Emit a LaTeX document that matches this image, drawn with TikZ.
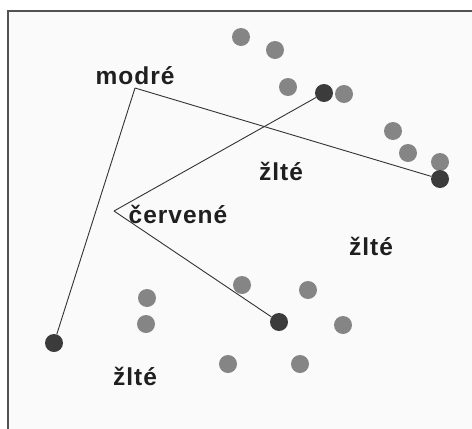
\documentclass[tikz,border=0pt]{standalone}
\usepackage{fontspec}
\setmainfont{Liberation Sans}
\begin{document}
\begin{tikzpicture}[x=1pt,y=-1pt,
  graydot/.style={circle,fill=black!48,inner sep=0pt,minimum size=18pt},
  darkdot/.style={circle,fill=black!77,inner sep=0pt,minimum size=18pt},
  lbl/.style={font=\fontsize{24.5}{28}\selectfont\addfontfeatures{LetterSpace=4}\bfseries,text=black!88,anchor=base,inner sep=0pt},
  conn/.style={draw=black!80,line width=0.9pt},
  frame/.style={draw=black!68,line width=2.8pt}]
\useasboundingbox (0,0) rectangle (472,429);
\fill[white] (0,0) rectangle (472,429);
\fill[black!2] (9,12) rectangle (472,429);
% frame (left and top edges)
\coordinate (fbl) at (8,429);
\coordinate (ftl) at (8,11);
\coordinate (ftr) at (472,11);
\draw[frame] (fbl) -- (ftl) -- (ftr);
% gray dots
\node[graydot] (g1) at (241,37) {};
\node[graydot] (g2) at (275,50) {};
\node[graydot] (g3) at (288,87) {};
\node[graydot] (g4) at (344,94) {};
\node[graydot] (g5) at (393,131) {};
\node[graydot] (g6) at (408,153) {};
\node[graydot] (g7) at (440,162) {};
\node[graydot] (g8) at (147,298) {};
\node[graydot] (g9) at (146,324) {};
\node[graydot] (g10) at (242,285) {};
\node[graydot] (g11) at (308,290) {};
\node[graydot] (g12) at (343,325) {};
\node[graydot] (g13) at (228,364) {};
\node[graydot] (g14) at (300,364) {};
% dark dots
\node[darkdot] (d1) at (324,93) {};
\node[darkdot] (d2) at (440,179) {};
\node[darkdot] (d3) at (279,322) {};
\node[darkdot] (d4) at (54,343) {};
% labels
\node[lbl] (modre) at (135,84) {modré};
\node[lbl] (cervene) at (178,223) {červené};
\node[lbl] (z1) at (281,180) {žlté};
\node[lbl] (z2) at (371,255) {žlté};
\node[lbl] (z3) at (135,385) {žlté};
% vertices
\coordinate (mv) at (135,88);
\coordinate (cv) at (114,211);
% connectors
\draw[conn] (mv) -- (d4);
\draw[conn] (mv) -- (d2);
\draw[conn] (cv) -- (d1);
\draw[conn] (cv) -- (d3);
\end{tikzpicture}
\end{document}
